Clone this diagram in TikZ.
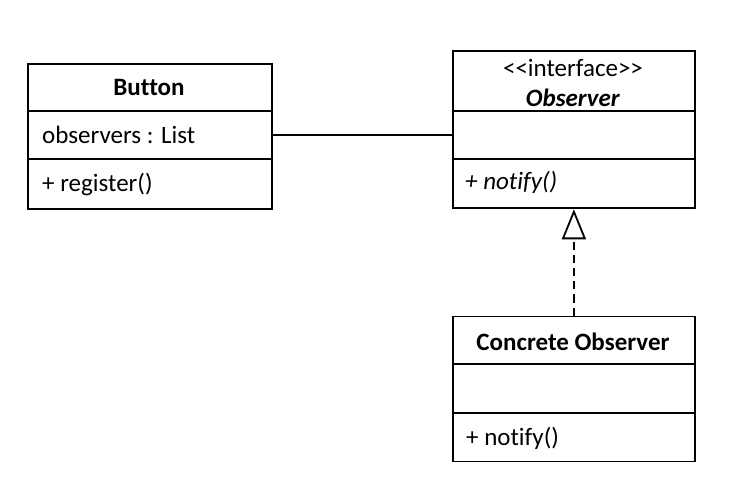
\documentclass[tikz,border=0pt]{standalone}
\usepackage{fontspec}
\setmainfont{Carlito}[Ligatures={NoCommon}]
\usetikzlibrary{arrows.meta}
\begin{document}
\begin{tikzpicture}[x=1pt,y=-1pt,
  classbox/.style={draw=black, line width=1.8pt, rectangle, anchor=north west, inner sep=0pt},
  sep/.style={line width=1.8pt},
  txt/.style={anchor=base, inner sep=0pt, font=\fontsize{25}{30}\selectfont},
  ltxt/.style={anchor=base west, inner sep=0pt, font=\fontsize{25}{30}\selectfont},
  conn/.style={line width=1.8pt}]
\useasboundingbox (0,0) rectangle (746,502);
\fill[white] (0,0) rectangle (746,502);
% Button
\node[classbox, minimum width=244pt, minimum height=145pt] (button) at (27,63) {};
\draw[sep] (27,111) -- (271,111);
\draw[sep] (27,159) -- (271,159);
\node[txt] (btitle) at (149,96) {\textbf{Button}};
\node[ltxt] (battr) at (42,144) {observers : List};
\node[ltxt] (bmeth) at (42,192) {+ register()};
% Observer
\node[classbox, minimum width=242pt, minimum height=157pt] (observer) at (452,50.5) {};
\draw[sep] (452,111) -- (694,111);
\draw[sep] (452,159) -- (694,159);
\node[txt] (ostereo) at (573,76.5) {<\kern0pt<interface>\kern0pt>};
\node[txt] (otitle) at (573,106.5) {\textbf{\itshape Observer}};
\node[ltxt] (ometh) at (465,190) {\itshape + notify()};
% Concrete Observer
\node[classbox, minimum width=242pt, minimum height=145pt] (concrete) at (452,315.5) {};
\draw[sep] (452,364) -- (694,364);
\draw[sep] (452,413) -- (694,413);
\node[txt] (ctitle) at (573,350) {\textbf{Concrete Observer}};
\node[ltxt] (cmeth) at (466,445) {+ notify()};
% connectors
\draw[conn] ([yshift=1.5pt]button.east) -- ([yshift=1.5pt]button.east -| observer.west);
\draw[conn, dash pattern=on 8pt off 5pt, -{Triangle[open, width=24pt, length=30pt, line width=1.8pt]}] (concrete.north) -- (observer.south);
\end{tikzpicture}
\end{document}
